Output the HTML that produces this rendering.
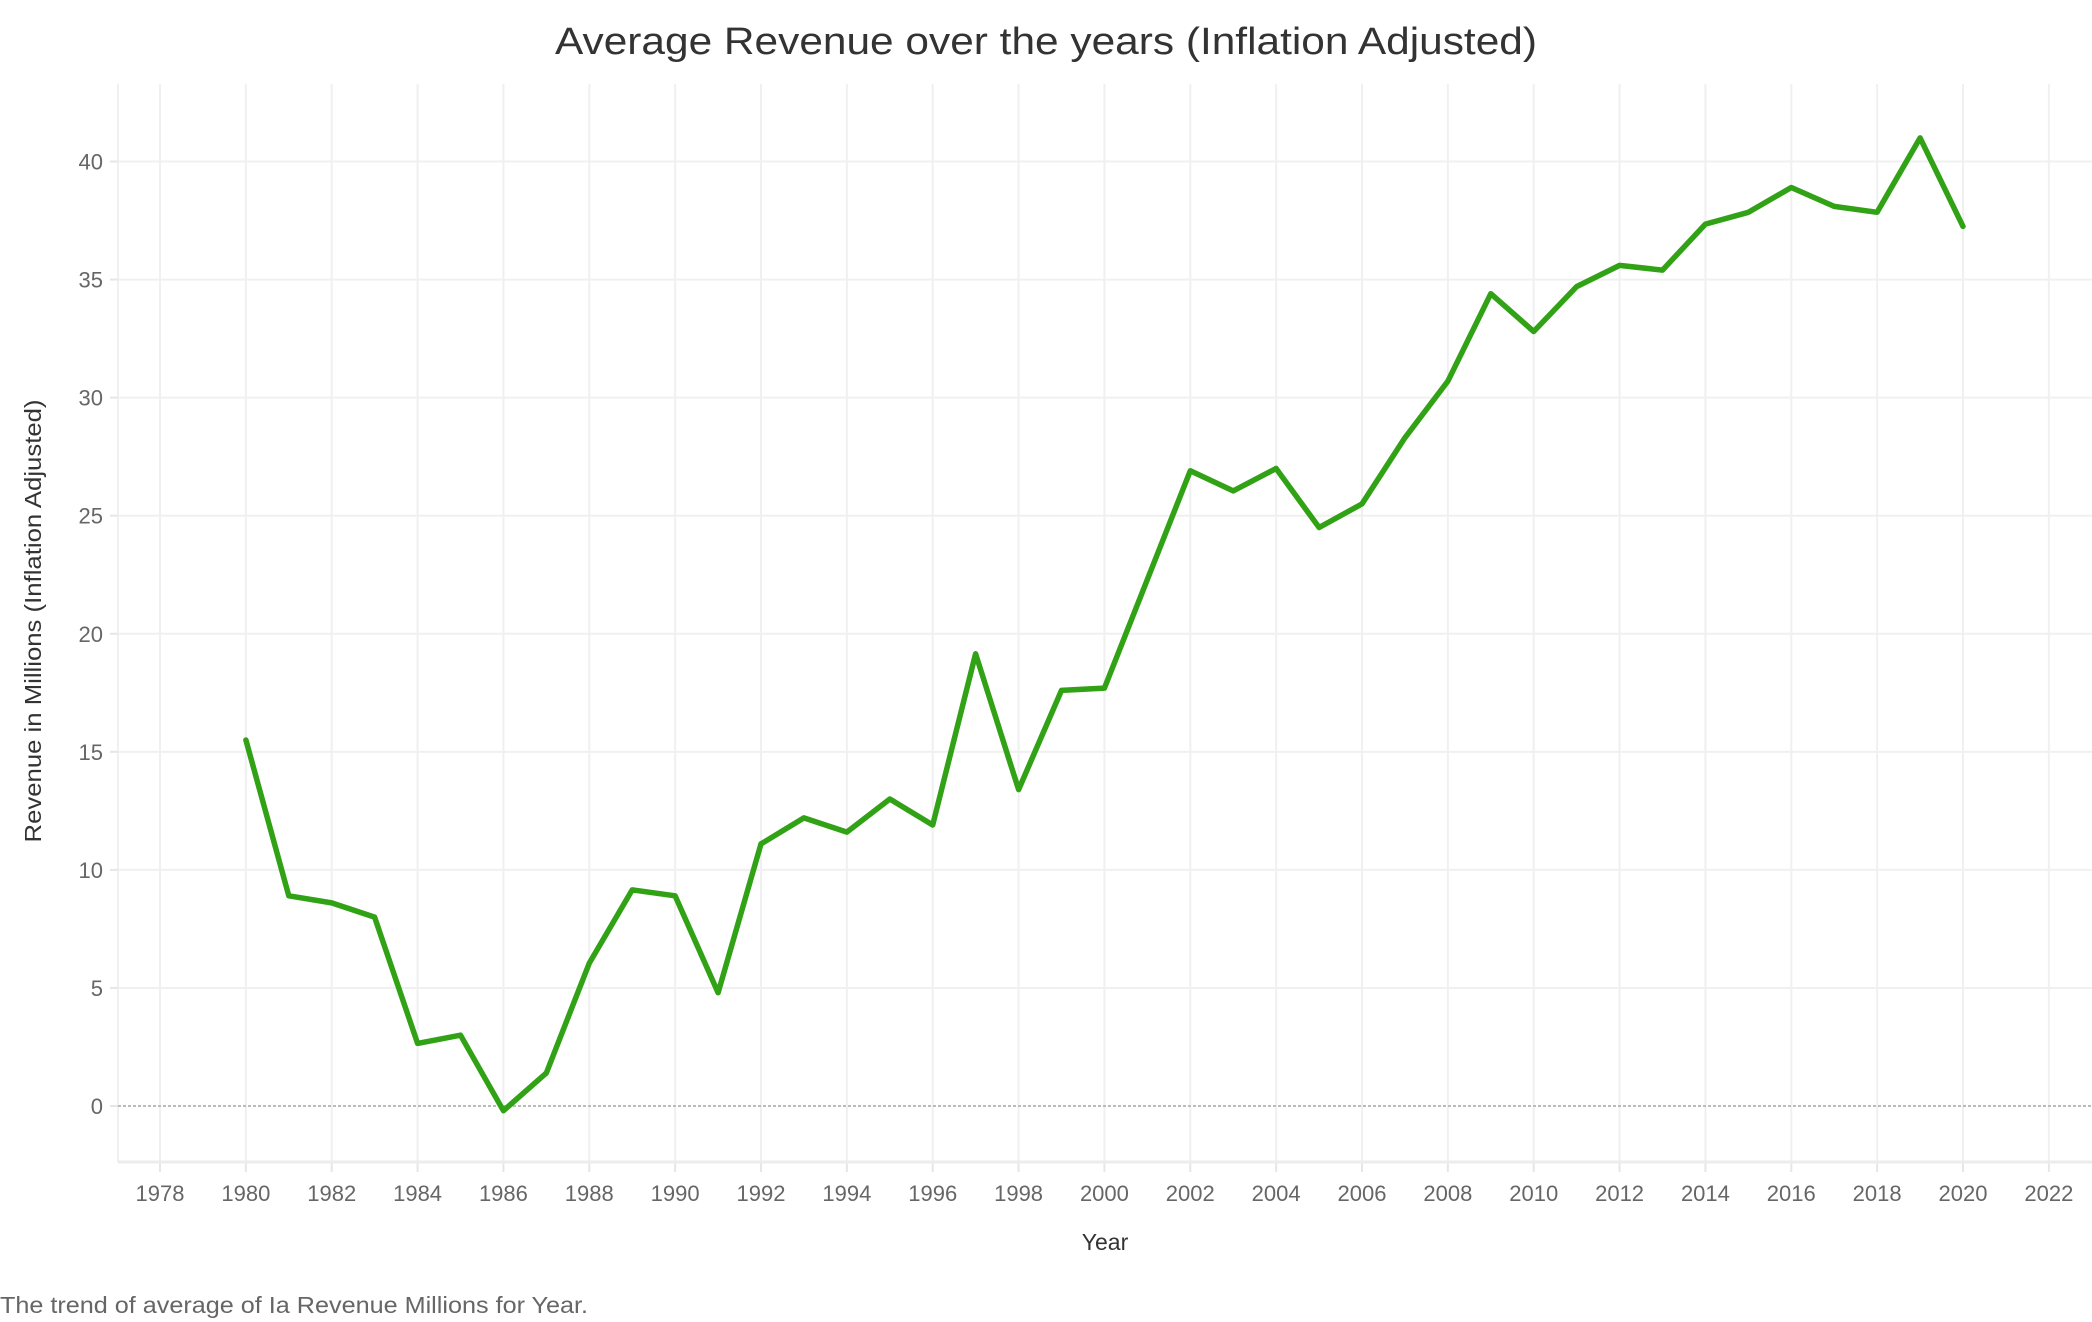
<!DOCTYPE html>
<html><head><meta charset="utf-8"><style>
html,body{margin:0;padding:0;background:#fff;}
svg{display:block;font-family:"Liberation Sans",sans-serif;}
</style></head><body>
<svg id="chart" width="2092" height="1322" viewBox="0 0 2092 1322" xmlns="http://www.w3.org/2000/svg">
<text x="1046" y="54" text-anchor="middle" font-size="38" fill="#333" textLength="982" lengthAdjust="spacingAndGlyphs">Average Revenue over the years (Inflation Adjusted)</text>
<g id="grid"></g>
<g id="axes"></g>
<g id="series"></g>
<text transform="translate(41,621) rotate(-90)" text-anchor="middle" font-size="23" fill="#333" textLength="443" lengthAdjust="spacingAndGlyphs">Revenue in Millions (Inflation Adjusted)</text>
<text x="1105" y="1250" text-anchor="middle" font-size="23" fill="#333">Year</text>
<text x="0" y="1313" font-size="23" fill="#666" textLength="588" lengthAdjust="spacingAndGlyphs">The trend of average of Ia Revenue Millions for Year.</text>
</svg>
<script>
const years = [1980,1981,1982,1983,1984,1985,1986,1987,1988,1989,1990,1991,1992,1993,1994,1995,1996,1997,1998,1999,2000,2001,2002,2003,2004,2005,2006,2007,2008,2009,2010,2011,2012,2013,2014,2015,2016,2017,2018,2019,2020];
const revenue = [15.5,8.9,8.6,8.0,2.65,3.0,-0.2,1.4,6.05,9.15,8.9,4.8,11.1,12.2,11.6,13.0,11.9,19.15,13.4,17.6,17.7,22.3,26.9,26.05,27.0,24.5,25.5,28.3,30.7,34.4,32.8,34.7,35.6,35.4,37.35,37.85,38.9,38.1,37.85,41.0,37.25];
const xTicks = [1978,1980,1982,1984,1986,1988,1990,1992,1994,1996,1998,2000,2002,2004,2006,2008,2010,2012,2014,2016,2018,2020,2022];
const yTicks = [0,5,10,15,20,25,30,35,40];

const NS = "http://www.w3.org/2000/svg";
const x = yr => 160 + (yr - 1978) * (1963 - 160) / 42;
const y = v => 1106 - v * (1106 - 161.5) / 40;
function mk(tag, attrs, parent){ const e=document.createElementNS(NS,tag); for(const k in attrs) e.setAttribute(k,attrs[k]); parent.appendChild(e); return e; }
const grid=document.getElementById('grid'), axes=document.getElementById('axes'), series=document.getElementById('series');
const L=118, R=2092, T=84, B=1162;

mk('line',{x1:L,y1:T,x2:L,y2:B,stroke:'#f0f0f0','stroke-width':2},grid);
xTicks.forEach(t=>{
  const g=mk('line',{x1:x(t),y1:T,x2:x(t),y2:B,stroke:'#f0f0f0','stroke-width':2},grid);
  
  
  mk('line',{x1:x(t),y1:B+1,x2:x(t),y2:B+10,stroke:'#e6e6e6','stroke-width':2},axes);
  const lb=mk('text',{x:x(t),y:1201,'text-anchor':'middle','font-size':22,fill:'#666'},axes);
  lb.textContent=t;
  
  
});
yTicks.forEach(t=>{
  if(t!==0){
    const g=mk('line',{x1:L,y1:y(t),x2:R,y2:y(t),stroke:'#f0f0f0','stroke-width':2},grid);
    
    
  }
  mk('line',{x1:L-8,y1:y(t),x2:L,y2:y(t),stroke:'#e6e6e6','stroke-width':2},axes);
  const lb=mk('text',{x:103,y:y(t)+8,'text-anchor':'end','font-size':22,fill:'#666'},axes);
  lb.textContent=t;
  
  
});
const zl=mk('line',{x1:L,y1:y(0),x2:R,y2:y(0),stroke:'#bbb','stroke-width':2,'stroke-dasharray':'3,2'},grid);


const xa=mk('line',{x1:L,y1:B,x2:R,y2:B,stroke:'#ececec','stroke-width':3},axes);



const pts=years.map((yr,i)=>x(yr).toFixed(1)+','+y(revenue[i]).toFixed(1)).join(' ');
const line=mk('polyline',{points:pts,fill:'none',stroke:'#31a215','stroke-width':5.5,'stroke-linejoin':'round','stroke-linecap':'round'},series);


</script>
</body></html>
